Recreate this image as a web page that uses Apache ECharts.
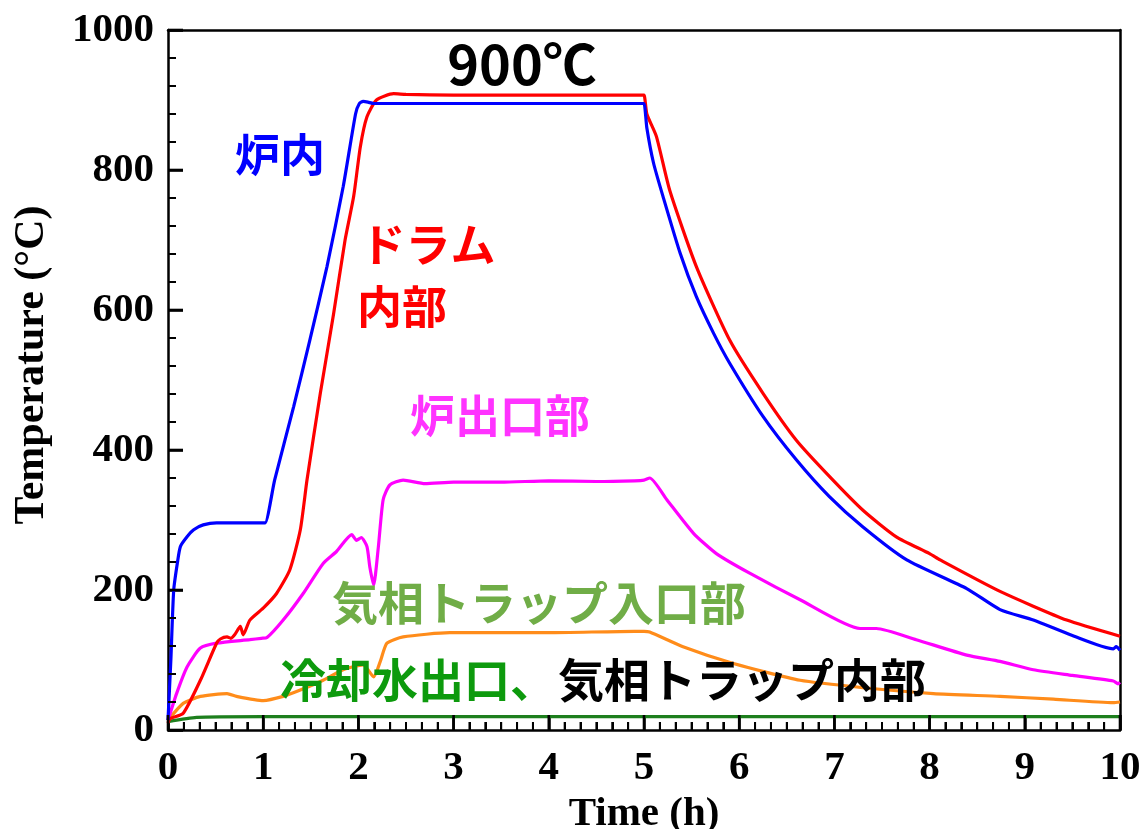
<!DOCTYPE html>
<html>
<head>
<meta charset="utf-8">
<script src="https://cdn.jsdelivr.net/npm/echarts@6/dist/echarts.min.js"></script>
<style>
html,body{margin:0;padding:0;background:#fff;}
#chart{width:1146px;height:829px;}
</style>
</head>
<body>
<div id="chart"></div>
<script>
// Time (h) / Temperature (°C)
const furnaceT = [0,0.03,0.06,0.1,0.13,0.2,0.27,0.37,0.51,0.62,0.9,0.98,1.02,1.12,1.32,1.49,1.67,1.84,1.97,2.01,2.05,2.1,2.16,3,4,4.9,4.97,5.0,5.03,5.1,5.2,5.38,5.55,5.73,5.9,6.25,6.6,6.95,7.3,7.76,8.39,8.74,9.09,9.5,9.93,9.96,10];
const furnaceV = [14,100,200,240,262,276,286,293,296,296,296,296,296,357,462,557,662,776,880,895,898,897,895,895,895,895,895,895,860,810,762,681,619,567,524,448,386,333,290,243,202,172,157,135,116,119,114];

const drumT = [0,0.02,0.16,0.34,0.51,0.55,0.62,0.66,0.7,0.76,0.79,0.86,1.0,1.14,1.28,1.39,1.46,1.6,1.74,1.86,1.95,2.02,2.09,2.19,2.37,2.5,3,4,4.9,4.97,5.0,5.03,5.13,5.27,5.55,5.9,6.25,6.6,6.95,7.3,7.65,8.0,8.11,8.74,9.44,10];
const drumV = [10,16,24,71,124,130,133,131,136,148,136,157,174,195,229,286,357,481,595,700,762,833,876,900,909,908,907,907,907,907,907,880,848,771,662,557,481,414,362,314,276,252,243,198,157,134];

const outletT = [0,0.09,0.2,0.34,0.51,0.86,0.98,1.04,1.21,1.42,1.63,1.77,1.93,1.98,2.03,2.09,2.12,2.16,2.21,2.26,2.33,2.47,2.7,3.0,3.5,4.0,4.5,4.9,5.0,5.06,5.24,5.52,5.76,6.11,6.64,7.27,7.44,7.86,8.39,8.74,9.09,9.5,9.93,9.98,10];
const outletV = [14,52,90,117,124,129,131,132,157,195,238,255,279,271,275,262,233,207,262,329,350,357,352,354,354,356,355,356,357,360,329,281,252,224,186,145,145,129,107,98,86,78,70,66,68];

const trapInT = [0,0.16,0.34,0.62,0.72,1.0,1.21,1.39,1.63,1.84,2.05,2.16,2.23,2.3,2.47,2.96,4,4.9,5.0,5.06,5.41,5.94,6.64,7.34,8.04,8.74,9.3,9.93,10];
const trapInV = [14,38,48,52,48,42,48,57,71,86,93,76,98,124,133,139,139,141,141,140,119,95,71,60,52,48,44,39,40];

const coolT = [0,0.3,1,5,10];
const coolV = [12,18,19,19,19];

const xTicks = [0,1,2,3,4,5,6,7,8,9,10];
const yTicks = [0,200,400,600,800,1000];
const xMinorSplit = 6;
const yMinorSplit = 5;

const zip = (t, v) => t.map((x, i) => [x, v[i]]);

// minor tick values between the major ticks
const xMinor = [];
for (let i = 0; i < xTicks.length - 1; i++)
  for (let k = 1; k < xMinorSplit; k++) xMinor.push(xTicks[i] + (xTicks[i+1]-xTicks[i])*k/xMinorSplit);
const yMinor = [];
for (let i = 0; i < yTicks.length - 1; i++)
  for (let k = 1; k < yMinorSplit; k++) yMinor.push(yTicks[i] + (yTicks[i+1]-yTicks[i])*k/yMinorSplit);

const serif = '"Liberation Serif","Times New Roman",serif';
const jp = '"Noto Sans CJK JP","Noto Sans",sans-serif';

const chart = echarts.init(document.getElementById('chart'));

function lineSeries(name, data, color){
  return {name, type:'line', data, showSymbol:false, symbol:'none', xAxisIndex:0, yAxisIndex:0,
    lineStyle:{color, width:3.2}, itemStyle:{color}, smooth:0.2, z:3, animation:false};
}

// inward tick marks as rect symbols placed through the axes' scales
function tickScatter(data, size, offset){
  return {type:'scatter', xAxisIndex:0, yAxisIndex:0, data, symbol:'rect', symbolSize:size,
    symbolOffset:offset, itemStyle:{color:'#000', opacity:1}, silent:true, clip:false, z:8,
    emphasis:{disabled:true}, animation:false};
}

function label(text, cx, cy, color, size){
  return {type:'text', x:cx, y:cy, style:{text, fill:color,
    font:'bold '+size+'px '+jp, textAlign:'center', textVerticalAlign:'middle'}, z:10};
}

const tickFont = {fontFamily:serif, fontWeight:'bold', fontSize:41, color:'#000'};
const frameAxis = {axisLine:{show:true, onZero:false, lineStyle:{color:'#000', width:2.5}},
  axisTick:{show:false}, axisLabel:{show:false}, splitLine:{show:false}};

chart.setOption({
  animation:false,
  backgroundColor:'#fff',
  grid:{left:168, right:26, top:30, bottom:99, outerBoundsMode:'none', containLabel:false},
  xAxis:[{type:'value', min:xTicks[0], max:xTicks[xTicks.length-1], interval:1, position:'bottom',
    name:'Time (h)', nameLocation:'middle', nameGap:54,
    nameTextStyle:{fontFamily:serif, fontWeight:'bold', fontSize:41, color:'#000'},
    axisLine:{show:true, onZero:false, lineStyle:{color:'#000', width:2.5}},
    axisTick:{show:true, inside:true, length:15, lineStyle:{color:'#000', width:2.5}},
    minorTick:{show:true, splitNumber:xMinorSplit, length:8, lineStyle:{color:'#000', width:2}},
    axisLabel:Object.assign({margin:18, formatter:v=>String(v)}, tickFont),
    splitLine:{show:false}},
    Object.assign({type:'value', min:0, max:10, position:'top'}, frameAxis)],
  yAxis:[{type:'value', min:yTicks[0], max:yTicks[yTicks.length-1], interval:200, position:'left',
    name:'Temperature (°C)', nameLocation:'middle', nameGap:115,
    nameTextStyle:{fontFamily:serif, fontWeight:'bold', fontSize:42, color:'#000', padding:[0,0,0,30]},
    axisLine:{show:true, onZero:false, lineStyle:{color:'#000', width:2.5}},
    axisTick:{show:true, inside:true, length:15, lineStyle:{color:'#000', width:2.5}},
    minorTick:{show:true, splitNumber:yMinorSplit, length:8, lineStyle:{color:'#000', width:2}},
    axisLabel:Object.assign({margin:14, formatter:v=>String(v)}, tickFont),
    splitLine:{show:false}},
    Object.assign({type:'value', min:0, max:1000, position:'right'}, frameAxis)],
  series:[
    lineSeries('冷却水出口', zip(coolT, coolV), '#1d7f1d'),
    lineSeries('気相トラップ入口部', zip(trapInT, trapInV), '#ff8c1a'),
    lineSeries('炉出口部', zip(outletT, outletV), '#ff00ff'),
    lineSeries('ドラム内部', zip(drumT, drumV), '#ff0000'),
    lineSeries('炉内', zip(furnaceT, furnaceV), '#0000ff'),
    tickScatter(xTicks.map(v => [v, yTicks[0]]), [2.6, 15], [0, -7.5]),
    tickScatter(xMinor.map(v => [v, yTicks[0]]), [2, 8], [0, -4]),
    tickScatter(yTicks.map(v => [xTicks[0], v]), [15, 2.6], [7.5, 0]),
    tickScatter(yMinor.map(v => [xTicks[0], v]), [8, 2], [4, 0])
  ],
  graphic:[
    label('900℃', 522, 64, '#000', 54),
    label('炉内', 280, 155, '#0000ff', 45),
    label('ドラム', 428, 245, '#ff0000', 45),
    label('内部', 402, 307, '#ff0000', 45),
    label('炉出口部', 500, 416, '#ff33ff', 45),
    label('気相トラップ入口部', 539, 603, '#70ad47', 46),
    {type:'text', x:280, y:680, style:{text:'冷却水出口、', fill:'#0d9a0d', font:'bold 46px '+jp, textAlign:'left', textVerticalAlign:'middle'}, z:10},
    {type:'text', x:558, y:680, style:{text:'気相トラップ内部', fill:'#000', font:'bold 46px '+jp, textAlign:'left', textVerticalAlign:'middle'}, z:10}
  ]
});
</script>
</body>
</html>
